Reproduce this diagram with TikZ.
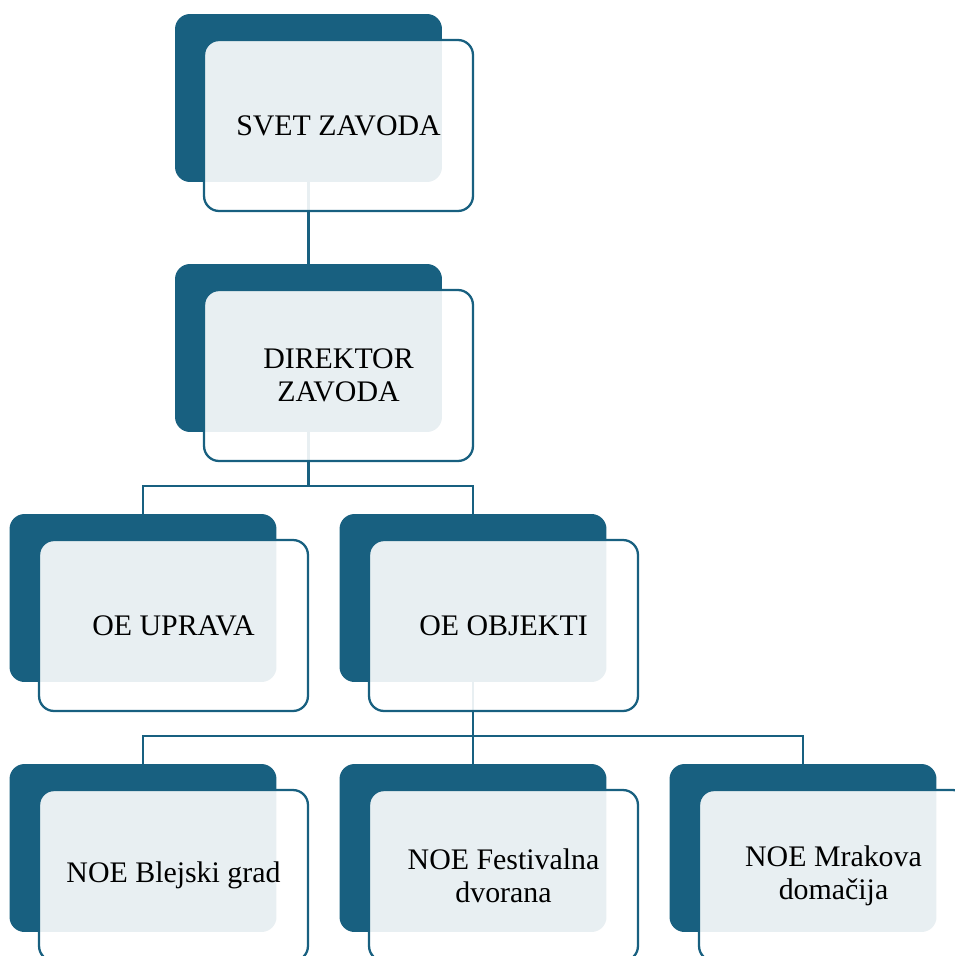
\documentclass[tikz,border=0pt]{standalone}
\usepackage{fontspec}
\setmainfont{Liberation Serif}

\definecolor{temna}{RGB}{24,96,128}

\tikzset{
  zadaj/.style={fill=temna, rounded corners=0.3cm, minimum width=5.34cm, minimum height=3.36cm, inner sep=0pt},
  spredaj/.style={draw=temna, line width=1.3pt, fill=white, fill opacity=0.9, text opacity=1, rounded corners=0.3cm,
    minimum width=5.38cm, minimum height=3.42cm, inner sep=0pt, align=center, font=\fontsize{17}{19}\selectfont},
  povezava/.style={draw=temna, line width=1.3pt}
}

\begin{document}
\begin{tikzpicture}[x=0.02cm, y=-0.02cm]

% Okvir slike
\useasboundingbox (0,0) rectangle (955,956);
\clip (0,0) rectangle (955,956);

% Temna ozadja
\node[zadaj] (svet-z) at (308.5, 98) {};
\node[zadaj] (dir-z) at (308.5, 348) {};
\node[zadaj] (uprava-z) at (143, 598) {};
\node[zadaj] (objekti-z) at (473, 598) {};
\node[zadaj] (grad-z) at (143, 848) {};
\node[zadaj] (dvorana-z) at (473, 848) {};
\node[zadaj] (mrak-z) at (803, 848) {};

% Povezave
\draw[povezava] (svet-z.south) -- (dir-z.north);
\draw[povezava] (uprava-z.north) -- ++(0,-28) -| (dir-z.south);
\draw[povezava] (objekti-z.north) -- ++(0,-28) -| (dir-z.south);
\draw[povezava] (grad-z.north) -- ++(0,-28) -| (objekti-z.south);
\draw[povezava] (dvorana-z.north) -- (objekti-z.south);
\draw[povezava] (mrak-z.north) -- ++(0,-28) -| (objekti-z.south);

% Okvirji z besedilom
\node[spredaj] (svet) at (338.5, 125.5) {SVET ZAVODA};
\node[spredaj] (dir) at (338.5, 375.5) {DIREKTOR\\ZAVODA};
\node[spredaj] (uprava) at (173.5, 625.5) {OE UPRAVA};
\node[spredaj] (objekti) at (503.5, 625.5) {OE OBJEKTI};
\node[spredaj] (grad) at (173.5, 875.5) {NOE Blejski grad};
\node[spredaj] (dvorana) at (503.5, 875.5) {NOE Festivalna\\dvorana};
\node[spredaj] (mrak) at (833.5, 875.5) {NOE Mrakova\\domačija};

\end{tikzpicture}
\end{document}
